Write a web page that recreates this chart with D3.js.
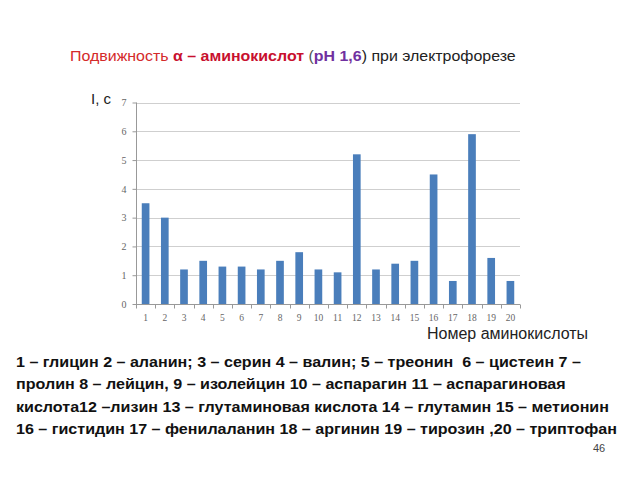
<!DOCTYPE html>
<html>
<head>
<meta charset="utf-8">
<script src="https://cdn.jsdelivr.net/npm/d3@7"></script>
<style>
  body { margin: 0; background: #fff; }
  svg { display: block; }
</style>
</head>
<body>
<svg id="chart" width="640" height="480"></svg>
<script>
var categories = ["1","2","3","4","5","6","7","8","9","10","11","12","13","14","15","16","17","18","19","20"];
var mobility = [3.5, 3.0, 1.2, 1.5, 1.3, 1.3, 1.2, 1.5, 1.8, 1.2, 1.1, 5.2, 1.2, 1.4, 1.5, 4.5, 0.8, 5.9, 1.6, 0.8];
var yTicks = [0, 1, 2, 3, 4, 5, 6, 7];
var legendLines = [
  "1 – глицин 2 – аланин; 3 – серин 4 – валин; 5 – треонин  6 – цистеин 7 –",
  "пролин 8 – лейцин, 9 – изолейцин 10 – аспарагин 11 – аспарагиновая",
  "кислота12 –лизин 13 – глутаминовая кислота 14 – глутамин 15 – метионин",
  "16 – гистидин 17 – фенилаланин 18 – аргинин 19 – тирозин ,20 – триптофан"
];

var svg = d3.select("#chart");
var plotLeft = 136, plotRight = 520, plotTop = 102.5, plotBottom = 304;

var x = d3.scaleBand().domain(categories).range([plotLeft, plotRight]).padding(0);
var y = d3.scaleLinear().domain([0, 7]).range([plotBottom, plotTop]);

// title (slide text is a bit wider than Liberation Sans)
var title = svg.append("text")
  .attr("transform", "translate(70,61) scale(1.1,1)")
  .style("font-family", "Liberation Sans, Arial, sans-serif")
  .style("font-size", "14.5px")
  .style("white-space", "pre");
title.append("tspan").attr("fill", "#d42a2a").text("Подвижность ");
title.append("tspan").attr("fill", "#c8102e").attr("font-weight", "bold").text("α – аминокислот");
title.append("tspan").attr("fill", "#555").text(" (");
title.append("tspan").attr("fill", "#7030a0").attr("font-weight", "bold").text("pH 1,6");
title.append("tspan").attr("fill", "#222").text(") при электрофорезе");

// gridlines
svg.append("g").selectAll("line")
  .data(yTicks.filter(function(d) { return d > 0; }))
  .enter().append("line")
  .attr("x1", plotLeft).attr("x2", plotRight)
  .attr("y1", function(d) { return Math.round(y(d)) + 0.5; })
  .attr("y2", function(d) { return Math.round(y(d)) + 0.5; })
  .attr("stroke", "#cfcfcf");

// bars
svg.append("g").selectAll("rect")
  .data(mobility)
  .enter().append("rect")
  .attr("x", function(d, i) { return x(categories[i]) + x.bandwidth() * 0.3; })
  .attr("width", x.bandwidth() * 0.4)
  .attr("y", function(d) { return y(d); })
  .attr("height", function(d) { return y(0) - y(d); })
  .attr("fill", "#4a7ebb");

// y axis
var yAxis = svg.append("g")
  .attr("transform", "translate(" + (plotLeft + 0.5) + ",0)")
  .call(d3.axisLeft(y).tickValues(yTicks).tickFormat(d3.format("d")).tickSize(4).tickPadding(6));
yAxis.select(".domain").attr("stroke", "#999").attr("d", "M0," + plotTop + "V" + plotBottom);
yAxis.selectAll(".tick line").attr("stroke", "#999");
yAxis.selectAll("text").attr("fill", "#666")
  .style("font-family", "Liberation Serif, serif").style("font-size", "10px");

// x axis
var xAxis = svg.append("g")
  .attr("transform", "translate(0," + (plotBottom + 0.5) + ")")
  .call(d3.axisBottom(x).tickSize(0).tickPadding(10));
xAxis.select(".domain").attr("stroke", "#999").attr("d", "M" + plotLeft + ",0H" + plotRight);
xAxis.selectAll("text").attr("fill", "#666")
  .style("font-family", "Liberation Serif, serif").style("font-size", "9.5px");
xAxis.append("g").selectAll("line")
  .data(categories.concat(["end"]))
  .enter().append("line")
  .attr("x1", function(d, i) { return Math.round(plotLeft + i * x.step()) + 0.5; })
  .attr("x2", function(d, i) { return Math.round(plotLeft + i * x.step()) + 0.5; })
  .attr("y1", 0).attr("y2", 4)
  .attr("stroke", "#999");

// axis titles
svg.append("text")
  .attr("x", 91).attr("y", 104)
  .style("font-family", "Liberation Sans, Arial, sans-serif")
  .style("font-size", "15px").attr("fill", "#222")
  .text("I, c");

svg.append("text")
  .attr("x", 427).attr("y", 339)
  .style("font-family", "Liberation Sans, Arial, sans-serif")
  .style("font-size", "16px").attr("fill", "#222")
  .text("Номер аминокислоты");

// legend text
svg.append("g").selectAll("text")
  .data(legendLines)
  .enter().append("text")
  .attr("transform", function(d, i) { return "translate(16," + (367 + i * 22.3) + ") scale(1.11,1)"; })
  .style("font-family", "Liberation Sans, Arial, sans-serif")
  .style("font-size", "14.5px").style("font-weight", "bold")
  .style("white-space", "pre")
  .attr("fill", "#111")
  .text(function(d) { return d; });

// page number
svg.append("text")
  .attr("x", 593).attr("y", 452)
  .style("font-family", "Liberation Sans, Arial, sans-serif")
  .style("font-size", "11px").attr("fill", "#444")
  .text("46");
</script>
</body>
</html>
